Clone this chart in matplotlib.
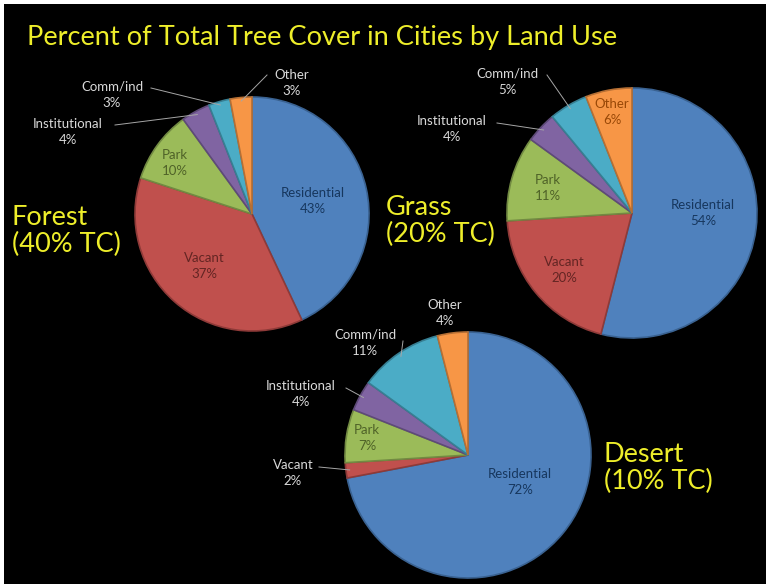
import matplotlib.pyplot as plt
from matplotlib.patches import Rectangle
import numpy as np

plt.rcParams['font.family'] = ['Lato', 'DejaVu Sans']

W, H = 766, 584

categories = ["Residential", "Vacant", "Park", "Institutional", "Comm/ind", "Other"]
forest = [43, 37, 10, 4, 3, 3]
grass = [54, 20, 11, 4, 5, 6]
desert = [72, 2, 7, 4, 11, 4]
pie_titles = ["Forest\n(40% TC)", "Grass\n(20% TC)", "Desert\n(10% TC)"]
main_title = "Percent of Total Tree Cover in Cities by Land Use"

colors = ["#4F81BD", "#C0504D", "#9BBB59", "#8064A2", "#4BACC6", "#F79646"]
edge_colors = ["#3A6291", "#8E3A38", "#728A42", "#5E4A78", "#377F93", "#B66F34"]
inside_text = ["#17375E", "#632523", "#4F6228", "#3F3151", "#215967", "#984807"]
outside_text = "#D9D9D9"
yellow = "#EEEE2A"

# layout in pixels: center, radius, title spot, label spots
# label spot: (x, y, inside, leader start or None)
layouts = [
    dict(values=forest, center=(252, 214), r=117, title=(12, 231),
         labels=[(313, 201, True, None), (204, 266, True, None), (175, 163, True, None),
                 (68, 132, False, (115, 125)), (112, 95, False, (151, 88)),
                 (292, 83, False, (267, 75))]),
    dict(values=grass, center=(632, 213), r=125, title=(386, 221),
         labels=[(703, 213, True, None), (564, 270, True, None), (548, 188, True, None),
                 (452, 129, False, (497, 123)), (507, 82, False, (547, 75)),
                 (612, 112, True, None)]),
    dict(values=desert, center=(468, 455), r=123, title=(604, 468),
         labels=[(520, 482, True, None), (293, 473, False, (319, 467)),
                 (367, 438, True, None), (301, 394, False, (346, 388)),
                 (365, 343, False, (403, 341)), (445, 313, False, None)]),
]

fig = plt.figure(figsize=(W / 100, H / 100), dpi=100, facecolor="black")

# thin white margins at top and left of the slide capture
fig.add_artist(Rectangle((0, 1 - 4 / H), 1, 4 / H, transform=fig.transFigure,
                         facecolor="white", edgecolor="none"))
fig.add_artist(Rectangle((0, 0), 4 / W, 1, transform=fig.transFigure,
                         facecolor="white", edgecolor="none"))

fig.text(27 / W, 1 - 37 / H, main_title, color=yellow, fontsize=19.6,
         ha="left", va="center")

for lay, ptitle in zip(layouts, pie_titles):
    cx, cy = lay["center"]
    r = lay["r"]
    ax = fig.add_axes([(cx - r) / W, 1 - (cy + r) / H, 2 * r / W, 2 * r / H])
    ax.set_facecolor("black")
    wedges, _ = ax.pie(lay["values"], colors=colors, startangle=90, counterclock=False,
                       radius=1.0, wedgeprops=dict(linewidth=1.2))
    for w, ec in zip(wedges, edge_colors):
        w.set_edgecolor(ec)
    ax.set_xlim(-1.0, 1.0)
    ax.set_ylim(-1.0, 1.0)
    ax.axis("off")

    def to_data(px, py):
        return (px - cx) / r, (cy - py) / r

    for cat, val, w, (lx, ly, inside, lead), tc in zip(
            categories, lay["values"], wedges, lay["labels"], inside_text):
        tx, ty = to_data(lx, ly)
        ax.text(tx, ty, f"{cat}\n{val}%", ha="center", va="center",
                fontsize=9.5, linespacing=1.45,
                color=tc if inside else outside_text, clip_on=False)
        if lead is not None:
            mid = np.deg2rad((w.theta1 + w.theta2) / 2)
            ex, ey = 0.97 * np.cos(mid), 0.97 * np.sin(mid)
            sx, sy = to_data(*lead)
            ax.plot([sx, ex], [sy, ey], color="#A6A6A6", linewidth=0.7, clip_on=False)

    tx, ty = lay["title"]
    fig.text(tx / W, 1 - ty / H, ptitle, color=yellow, fontsize=19.5,
             ha="left", va="center", linespacing=1.1)

fig.savefig("out.png", dpi=100, facecolor=fig.get_facecolor())
